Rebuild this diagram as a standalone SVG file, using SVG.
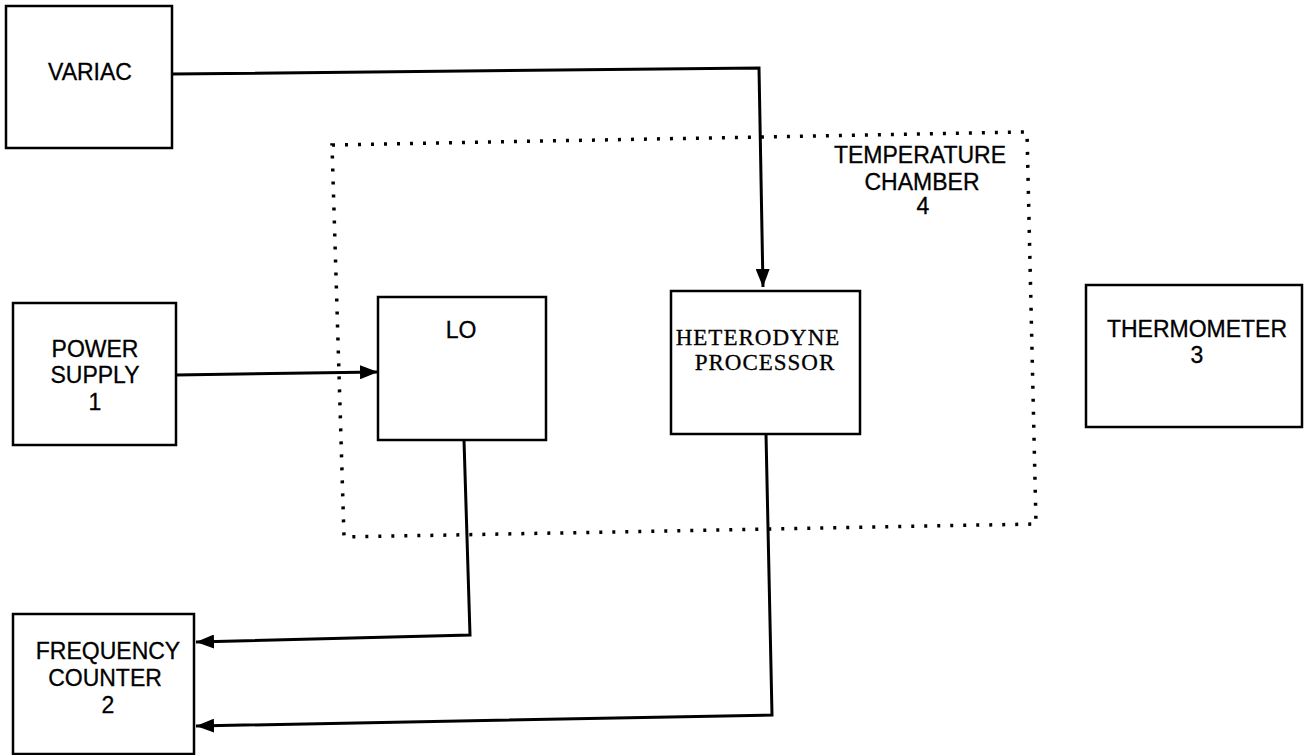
<svg xmlns="http://www.w3.org/2000/svg" width="1305" height="755" viewBox="0 0 1305 755">
<style>
.box{fill:none;stroke:#000;stroke-width:2.5}
.t{font-family:"Liberation Sans",Arial,sans-serif;font-size:23px;fill:#000;text-anchor:middle;stroke:#000;stroke-width:0.3}
.s{font-family:"Liberation Serif","Times New Roman",serif;font-size:23px;fill:#000;text-anchor:middle;letter-spacing:1px;stroke:#000;stroke-width:0.3}
.c{fill:none;stroke:#000;stroke-width:3}
.dot{fill:none;stroke:#000;stroke-width:3.5;stroke-dasharray:3 10}
</style>
<defs>
<marker id="ah" viewBox="0 0 18 14" refX="18" refY="7" markerWidth="18" markerHeight="14" markerUnits="userSpaceOnUse" orient="auto">
<path d="M0,0 L18,7 L0,14 Z" fill="#000"/>
</marker>
</defs>
<g id="chamber">
<path class="dot" d="M332,145 L1027,132 L1036,524 L344,537 Z"/>
<text class="t" x="920" y="163">TEMPERATURE</text>
<text class="t" x="922" y="190">CHAMBER</text>
<text class="t" x="923" y="214">4</text>
</g>
<g id="variac">
<rect class="box" x="6" y="6" width="166" height="142"/>
<text class="t" x="90" y="80">VARIAC</text>
</g>
<g id="power-supply">
<rect class="box" x="13" y="303" width="163" height="142"/>
<text class="t" x="95" y="357">POWER</text>
<text class="t" x="95" y="383">SUPPLY</text>
<text class="t" x="95" y="410">1</text>
</g>
<g id="lo">
<rect class="box" x="378" y="297" width="168" height="143"/>
<text class="t" x="461" y="338">LO</text>
</g>
<g id="heterodyne">
<rect class="box" x="671" y="291" width="189" height="143"/>
<text class="s" x="758" y="345">HETERODYNE</text>
<text class="s" x="765" y="370">PROCESSOR</text>
</g>
<g id="thermometer">
<rect class="box" x="1086" y="285" width="216" height="142"/>
<text class="t" x="1197" y="337">THERMOMETER</text>
<text class="t" x="1197" y="363">3</text>
</g>
<g id="frequency-counter">
<rect class="box" x="13" y="614" width="181" height="140"/>
<text class="t" x="108" y="659">FREQUENCY</text>
<text class="t" x="105" y="686">COUNTER</text>
<text class="t" x="108" y="713">2</text>
</g>
<g id="connectors">
<path class="c" d="M172,74 L759,68 L763,287" marker-end="url(#ah)"/>
<path class="c" d="M176,375 L378,372" marker-end="url(#ah)"/>
<path class="c" d="M464,440 L470,635 L196,642" marker-end="url(#ah)"/>
<path class="c" d="M766,434 L772,715 L196,726" marker-end="url(#ah)"/>
</g>
</svg>
